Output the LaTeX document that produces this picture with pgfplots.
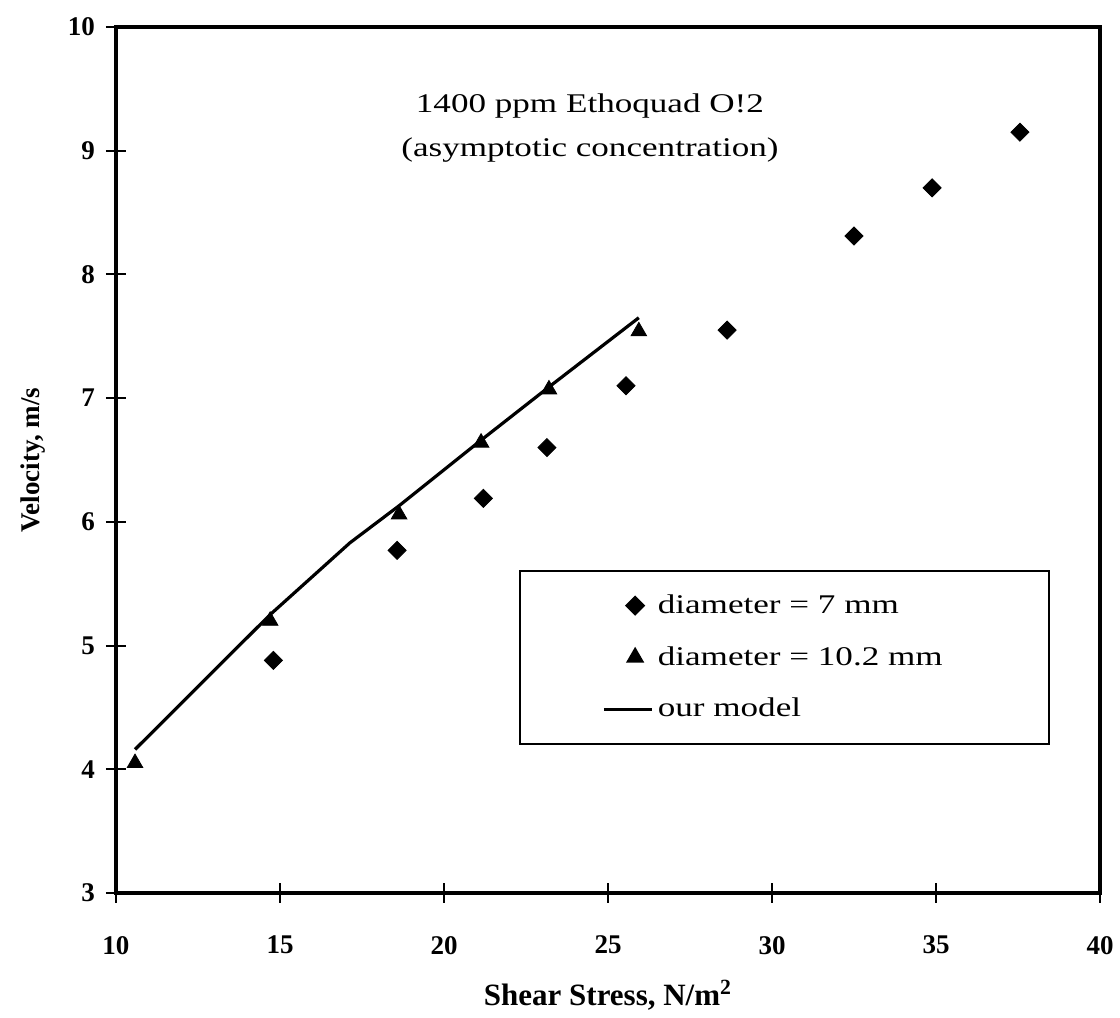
\documentclass[border=0pt]{standalone}
\usepackage{fontspec}
\setmainfont{Liberation Serif}
\newfontfamily\widefont{Liberation Serif}[FakeStretch=1.3]
\usepackage{pgfplots}
\pgfplotsset{compat=1.18}
\usetikzlibrary{calc}

\pgfplotsset{longline/.style={legend image code/.code={\draw[#1] (-0.25cm,0cm) -- (0.6cm,0cm);}}}

\pgfplotstableread{
x      y
14.80  4.88
18.57  5.77
21.20  6.19
23.14  6.60
25.55  7.10
28.63  7.55
32.50  8.31
34.88  8.70
37.56  9.15
}\dseven

\pgfplotstableread{
x      y
10.58  4.05
14.70  5.20
18.63  6.06
21.13  6.64
23.20  7.07
25.94  7.54
}\dten

\pgfplotstableread{
x      y
10.58  4.16
14.70  5.25
16.00  5.56
17.13  5.83
18.63  6.13
21.13  6.66
23.20  7.09
25.94  7.65
}\model

\begin{document}
\begin{tikzpicture}
\begin{axis}[
    scale only axis,
    width=492pt, height=433pt,
    xmin=10, xmax=40, ymin=3, ymax=10,
    xtick={10,15,...,40}, ytick={3,4,...,10},
    tick pos=left,
    tick align=center,
    major tick length=10pt,
    axis line style={line width=1.6pt},
    every tick/.style={black, line width=1pt},
    /pgf/number format/assume math mode=true,
    ticklabel style={font=\fontsize{13.5}{15}\selectfont\bfseries},
    xticklabel style={yshift=-13pt},
    yticklabel style={xshift=-2pt},
    xlabel={Shear Stress, N/m$^{\mathbf{2}}$},
    ylabel={Velocity, m/s},
    xlabel style={at={(axis description cs:0.5,-0.118)}, anchor=center,
        font=\fontsize{15.5}{17}\selectfont\bfseries},
    ylabel style={at={(axis description cs:-0.0843,0.5)}, anchor=center,
        font=\fontsize{13.5}{16}\selectfont\bfseries},
    legend style={at={(0.41,0.373)}, anchor=north west,
        draw=black, line width=0.8pt,
        font=\widefont\fontsize{13.5}{15}\selectfont,
        inner xsep=41pt, inner ysep=10pt, row sep=11pt},
    legend cell align=left,
]
\addplot[only marks, mark=square*, mark size=3.2pt,
    mark options={rotate=45, fill=black}]
    table[x=x, y=y] {\dseven};
\addlegendentry{diameter = 7 mm}
\addplot[only marks, mark=triangle*, mark size=4.5pt,
    mark options={fill=black}]
    table[x=x, y=y] {\dten};
\addlegendentry{diameter = 10.2 mm\rule{10pt}{0pt}}
\addplot[black, line width=1.6pt, mark=none, longline]
    table[x=x, y=y] {\model};
\addlegendentry{our model}
\node[align=center, font=\widefont\fontsize{13.5}{22}\selectfont]
    at (axis cs:24.45,9.18) {1400 ppm Ethoquad O!2\\(asymptotic concentration)};
\end{axis}
\pgfresetboundingbox
\path[use as bounding box] ($(current axis.south west)+(-58pt,-62.5pt)$)
    rectangle ($(current axis.north east)+(10pt,13.5pt)$);
\end{tikzpicture}
\end{document}
